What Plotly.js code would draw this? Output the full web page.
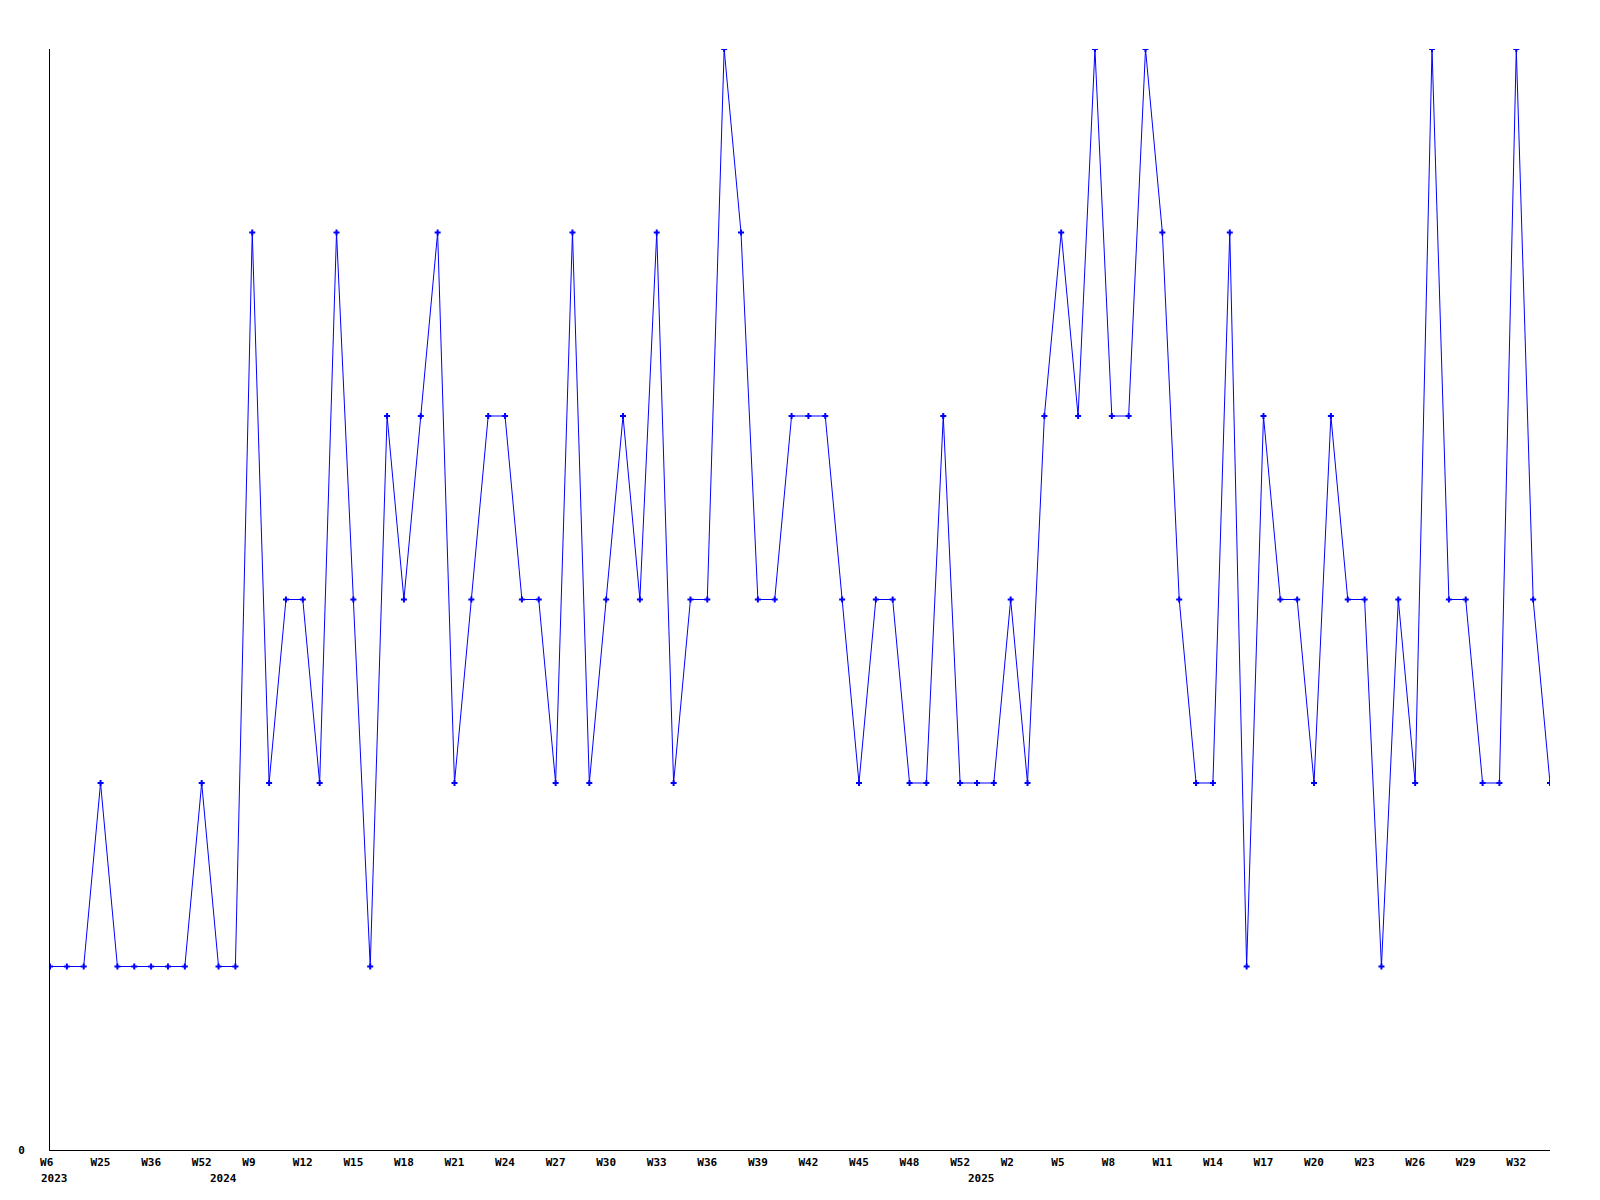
<!DOCTYPE html>
<html>
<head>
<meta charset="utf-8">
<script src="https://cdn.plot.ly/plotly-3.0.1.min.js"></script>
<style>html,body{margin:0;padding:0;background:#fff;}#chart{width:1600px;height:1200px;}</style>
</head>
<body>
<div id="chart"></div>
<script>
// Weekly values, one per point (evenly spaced points)
const values = [
  1,1,1,2,1,1,1,1,1,2,
  1,1,5,2,3,3,2,5,3,1,
  4,3,4,5,2,3,4,4,3,3,
  2,5,2,3,4,3,5,2,3,3,
  6,5,3,3,4,4,4,3,2,3,
  3,2,2,4,2,2,2,3,2,4,
  5,4,6,4,4,6,5,3,2,2,
  5,1,4,3,3,2,4,3,3,1,
  3,2,6,3,3,2,2,6,3,2
];
// Tick labels shown on every third point
const weekTickLabels = ["W6","W25","W36","W52","W9","W12","W15","W18","W21","W24",
  "W27","W30","W33","W36","W39","W42","W45","W48","W52","W2",
  "W5","W8","W11","W14","W17","W20","W23","W26","W29","W32"];
const tickStep = 3;
// Year labels and the point index where each year starts
const yearLabels = ["2023","2024","2025"];
const yearStartIndex = [0,10,55];

const xIdx = values.map((_, i) => i);
const tickvals = weekTickLabels.map((_, i) => i * tickStep);
const ticktext = weekTickLabels.map(t => t.length < 3 ? t + "\u00a0" : t);

const font = {family: "DejaVu Sans Mono, Liberation Mono, monospace", size: 11, color: "#000", weight: "bold"};

const trace = {
  x: xIdx, y: values, type: "scatter", mode: "lines+markers",
  line: {color: "#0000ff", width: 1},
  marker: {color: "#0000ff", size: 5, symbol: "cross"},
  hoverinfo: "skip"
};

const annotations = yearLabels.map((t, i) => ({
  text: t, x: yearStartIndex[i], xref: "x", y: 0, yref: "paper",
  xanchor: "left", yanchor: "top", xshift: -11, yshift: -20,
  showarrow: false, font: font
}));

const layout = {
  width: 1600, height: 1200,
  margin: {l: 50, r: 50, t: 49, b: 50},
  paper_bgcolor: "#fff", plot_bgcolor: "#fff",
  showlegend: false,
  font: font,
  xaxis: {
    range: [0, values.length - 1], tickmode: "array", tickvals: tickvals, ticktext: ticktext,
    showgrid: false, zeroline: false, showline: true, linecolor: "#000", linewidth: 1,
    ticks: "", tickfont: font, tickangle: 0, ticklabelstandoff: 2, fixedrange: true
  },
  yaxis: {
    range: [0, 6], tickmode: "array", tickvals: [0], ticktext: ["0"],
    showgrid: false, zeroline: false, showline: true, linecolor: "#000", linewidth: 1,
    ticks: "", tickfont: font, ticklabelstandoff: 22, fixedrange: true
  },
  annotations: annotations
};

Plotly.newPlot("chart", [trace], layout, {staticPlot: true, displayModeBar: false});
</script>
</body>
</html>
